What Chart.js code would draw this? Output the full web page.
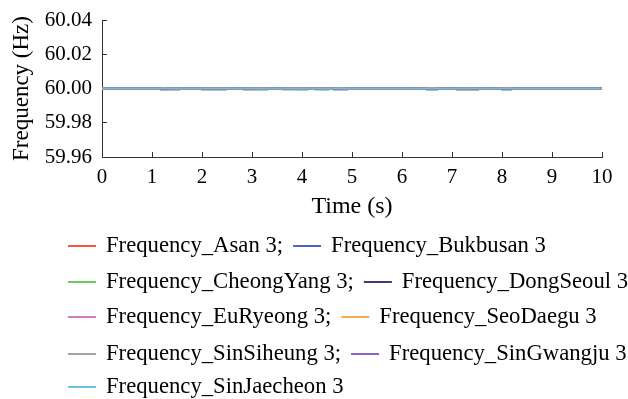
<!DOCTYPE html>
<html>
<head>
<meta charset="utf-8">
<script src="https://cdn.jsdelivr.net/npm/chart.js@4.4.1/dist/chart.umd.min.js"></script>
<style>
  html, body { margin: 0; padding: 0; background: #fff; }
  #wrap { width: 628px; height: 399px; }
</style>
</head>
<body>
<div id="wrap"><canvas id="myChart"></canvas></div>
<script>
// time breakpoints (s), values hold until the next breakpoint
var timeS = [0, 1.18, 1.3, 1.54, 2.0, 2.48, 2.84, 3.1, 3.3, 3.62, 3.9, 4.1, 4.28, 4.4, 4.52, 4.64, 4.9, 6.5, 6.7, 7.1, 7.52, 8.0, 8.18, 10];

var seriesNames = [
  "Frequency_Asan 3",
  "Frequency_Bukbusan 3",
  "Frequency_CheongYang 3",
  "Frequency_DongSeoul 3",
  "Frequency_EuRyeong 3",
  "Frequency_SeoDaegu 3",
  "Frequency_SinSiheung 3",
  "Frequency_SinGwangju 3",
  "Frequency_SinJaecheon 3"
];
var seriesColors = ["#f2583e", "#4f63c6", "#6cc95c", "#3b3b7c", "#d27bc2", "#f7a94c", "#a3a3a3", "#8c62c2", "#6dc0e0"];

var freqAsan =        [60, 60, 60, 60, 60, 60, 60, 60, 60, 60, 60, 60, 60, 60, 60, 60, 60, 60, 60, 60, 60, 60, 60, 60];
var freqBukbusan =    [60, 59.9996, 60, 60, 60, 60, 60, 60, 60, 60, 60, 60, 60, 60, 60, 60, 60, 59.9996, 60, 60, 60, 59.9996, 60, 60];
var freqCheongYang =  [60, 60, 60, 60, 60, 60, 60, 59.9996, 60, 60, 59.9996, 60, 60, 59.9996, 60, 60, 60, 60, 60, 60, 60, 60, 60, 60];
var freqDongSeoul =   [60, 59.9995, 59.9995, 60, 59.9995, 60, 59.9995, 59.9995, 60, 59.9995, 59.9995, 60, 59.9995, 59.9995, 60, 59.9995, 60, 59.9995, 60, 59.9995, 60, 59.9995, 60, 60];
var freqEuRyeong =    [60, 60, 60, 60, 60, 60, 60, 60, 60, 60, 60, 60, 60, 60, 60, 59.9996, 60, 60, 60, 60, 60, 60, 60, 60];
var freqSeoDaegu =    [60, 60, 59.9996, 60, 60, 60, 59.9996, 60, 60, 60, 60, 60, 60, 60, 60, 60, 60, 60, 60, 59.9996, 60, 60, 60, 60];
var freqSinSiheung =  [60, 60, 60, 60, 59.9996, 60, 60, 60, 60, 60, 60, 60, 60, 60, 60, 60, 60, 60, 60, 59.9996, 60, 60, 60, 60];
var freqSinGwangju =  [60, 60, 60, 60, 60, 60, 60, 60, 60, 60, 60, 60, 60, 60, 60, 60, 60, 60, 60, 60, 60, 60, 60, 60];
var freqSinJaecheon = [60, 60, 60, 60, 60, 60, 60, 60, 60, 60, 60, 60, 60, 60, 60, 60, 60, 60, 60, 60, 60, 60, 60, 60];

var seriesValues = [freqAsan, freqBukbusan, freqCheongYang, freqDongSeoul, freqEuRyeong,
  freqSeoDaegu, freqSinSiheung, freqSinGwangju, freqSinJaecheon];

var xTicks = [0, 1, 2, 3, 4, 5, 6, 7, 8, 9, 10];
var yTicks = [59.96, 59.98, 60.00, 60.02, 60.04];

var legendRowsY = [246, 282, 317, 354, 387];

var serif = "'Liberation Serif', 'Times New Roman', serif";

// legend drawn as two items per row, left aligned
var rowLegend = {
  id: "rowLegend",
  afterDraw: function (chart) {
    var ctx = chart.ctx;
    var sets = chart.data.datasets;
    ctx.save();
    ctx.font = "22.7px " + serif;
    ctx.textBaseline = "middle";
    var x = 68;
    sets.forEach(function (ds, i) {
      var col = i % 2;
      var y = legendRowsY[Math.floor(i / 2)];
      if (col === 0) x = 68;
      ctx.strokeStyle = ds.borderColor;
      ctx.lineWidth = 2;
      ctx.beginPath();
      ctx.moveTo(x, y);
      ctx.lineTo(x + 28, y);
      ctx.stroke();
      var txt = ds.label + (col === 0 && i < sets.length - 1 ? ";" : "");
      ctx.fillStyle = "#000";
      ctx.fillText(txt, x + 38, y);
      x = x + 38 + ctx.measureText(txt).width + 10;
    });
    ctx.restore();
  }
};

new Chart("myChart", {
  type: "line",
  data: {
    datasets: seriesNames.map(function (name, i) {
      return {
        label: name,
        data: timeS.map(function (t, j) { return { x: t, y: seriesValues[i][j] }; }),
        borderColor: seriesColors[i],
        backgroundColor: seriesColors[i],
        borderWidth: 2,
        pointRadius: 0,
        stepped: true,
        order: i === 8 ? -1 : 0
      };
    })
  },
  options: {
    responsive: true,
    maintainAspectRatio: false,
    animation: false,
    layout: {
      padding: { top: 20, right: 26, left: 0, bottom: 177.6 }
    },
    plugins: {
      legend: { display: false },
      tooltip: { enabled: false }
    },
    scales: {
      x: {
        type: "linear",
        min: 0,
        max: 10,
        afterBuildTicks: function (axis) {
          axis.ticks = xTicks.map(function (v) { return { value: v }; });
        },
        afterFit: function (axis) {
          axis.height = 64.4;
        },
        ticks: {
          color: "#000",
          padding: 13,
          maxRotation: 0,
          font: { family: serif, size: 21 }
        },
        grid: {
          drawOnChartArea: false,
          drawTicks: true,
          tickLength: -5,
          color: "#333"
        },
        border: { color: "#333", width: 1 },
        title: {
          display: true,
          text: "Time (s)",
          color: "#000",
          padding: { top: 0, bottom: 0 },
          font: { family: serif, size: 24 }
        }
      },
      y: {
        min: 59.96,
        max: 60.04,
        afterBuildTicks: function (axis) {
          axis.ticks = yTicks.map(function (v) { return { value: v }; });
        },
        afterFit: function (axis) {
          axis.width = 102;
          axis.paddingTop = 0;
          axis.paddingBottom = 0;
        },
        ticks: {
          color: "#000",
          padding: 15,
          font: { family: serif, size: 21 },
          callback: function (v) { return Number(v).toFixed(2); }
        },
        grid: {
          drawOnChartArea: false,
          drawTicks: true,
          tickLength: -5,
          color: "#333"
        },
        border: { color: "#333", width: 1 },
        title: {
          display: true,
          text: "Frequency (Hz)",
          color: "#000",
          padding: { top: 8, bottom: 0 },
          font: { family: serif, size: 23 }
        }
      }
    }
  },
  plugins: [rowLegend]
});
</script>
</body>
</html>
